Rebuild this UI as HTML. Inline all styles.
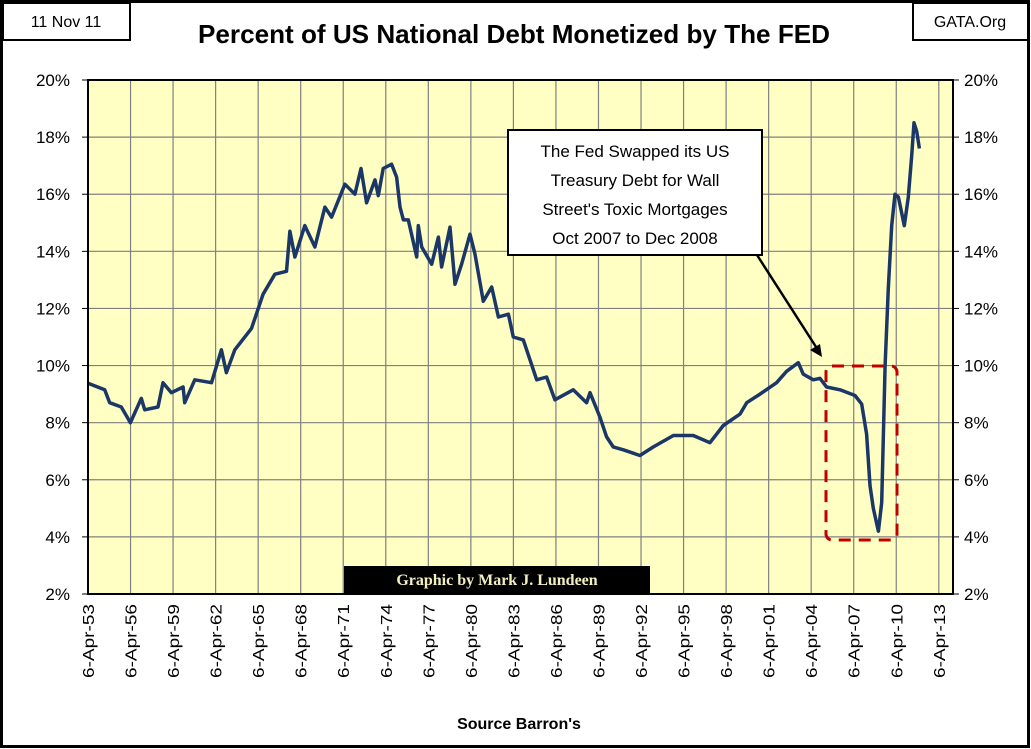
<!DOCTYPE html>
<html><head><meta charset="utf-8">
<style>
body{margin:0;background:#fff;}
svg{display:block;font-family:"Liberation Sans",sans-serif;}
</style></head>
<body>
<svg id="chart" width="1031" height="749" viewBox="0 0 1031 749" xmlns="http://www.w3.org/2000/svg">
<rect x="1.5" y="1.5" width="1027" height="745" fill="#fff" stroke="#000" stroke-width="3"/>
<rect x="3" y="3" width="127" height="37" fill="#fff" stroke="#000" stroke-width="2"/>
<text x="66" y="27" font-size="16" text-anchor="middle">11 Nov 11</text>
<rect x="913" y="3" width="115" height="37" fill="#fff" stroke="#000" stroke-width="2"/>
<text x="970" y="27" font-size="16" text-anchor="middle">GATA.Org</text>
<text x="514" y="43" font-size="26" font-weight="bold" text-anchor="middle" textLength="632" lengthAdjust="spacingAndGlyphs">Percent of US National Debt Monetized by The FED</text>
<rect x="88" y="80" width="865" height="514" fill="#ffffc4"/>
<g id="grid"></g>
<g id="axes"></g>
<path id="series" fill="none" stroke="#1b3768" stroke-width="3.5" stroke-linejoin="round"/>
<rect x="88" y="80" width="865" height="514" fill="none" stroke="#000" stroke-width="2"/>
<rect x="826" y="366" width="71" height="174" rx="6" fill="none" stroke="#c00000" stroke-width="3" stroke-dasharray="12,8"/>
<line x1="757" y1="255" x2="818" y2="350" stroke="#000" stroke-width="2.5"/>
<polygon points="822,357 810,350 820,344" fill="#000"/>
<rect x="508" y="130" width="254" height="125" fill="#fff" stroke="#000" stroke-width="2"/>
<g font-size="17" text-anchor="middle">
<text x="635" y="157">The Fed Swapped its US</text>
<text x="635" y="186">Treasury Debt for Wall</text>
<text x="635" y="215">Street's Toxic Mortgages</text>
<text x="635" y="244">Oct 2007 to Dec 2008</text>
</g>
<rect x="344" y="566" width="306" height="28" fill="#000"/>
<text x="497" y="585" font-size="16" font-weight="bold" fill="#f3efc0" text-anchor="middle" font-family="Liberation Serif,serif">Graphic by Mark J. Lundeen</text>
<text x="519" y="729" font-size="16" font-weight="bold" text-anchor="middle">Source Barron's</text>
</svg>
<script>
const years=[1953.26,1954.44,1954.79,1955.61,1956.25,1957.02,1957.26,1958.2,1958.55,1959.14,1959.97,1960.08,1960.79,1961.97,1962.67,1963.02,1963.61,1964.79,1965.61,1966.44,1967.26,1967.5,1967.85,1968.55,1969.26,1969.97,1970.44,1971.38,1972.08,1972.51,1972.91,1973.5,1973.73,1974.08,1974.67,1975.02,1975.26,1975.5,1975.85,1976.44,1976.55,1976.79,1977.5,1977.97,1978.2,1978.79,1979.14,1979.61,1980.2,1980.55,1981.14,1981.73,1982.2,1982.91,1983.25,1983.96,1984.43,1984.9,1985.6,1986.19,1987.48,1988.42,1988.66,1989.36,1989.83,1990.3,1991.01,1992.18,1993.13,1994.54,1995.95,1997.12,1998.06,1999.24,1999.71,2000.65,2001.82,2002.53,2003.35,2003.7,2004.41,2004.88,2005.35,2006.29,2007.35,2007.82,2008.17,2008.41,2008.64,2009.0,2009.23,2009.47,2009.7,2009.94,2010.17,2010.41,2010.83,2011.11,2011.35,2011.51,2011.7,2011.89];
const values=[9.38,9.15,8.7,8.55,8.0,8.85,8.45,8.55,9.4,9.05,9.25,8.7,9.5,9.4,10.55,9.75,10.55,11.3,12.5,13.2,13.3,14.7,13.8,14.9,14.15,15.55,15.2,16.35,16.0,16.9,15.7,16.5,15.95,16.9,17.05,16.6,15.55,15.1,15.1,13.8,14.9,14.15,13.55,14.5,13.45,14.85,12.85,13.55,14.6,13.9,12.25,12.75,11.7,11.8,11.0,10.9,10.2,9.5,9.6,8.8,9.15,8.7,9.05,8.2,7.5,7.15,7.05,6.85,7.15,7.55,7.55,7.3,7.9,8.3,8.7,9.0,9.4,9.8,10.1,9.7,9.5,9.55,9.25,9.15,8.95,8.65,7.6,5.8,5.0,4.2,5.2,10.0,12.7,14.9,16.0,15.9,14.9,15.9,17.35,18.5,18.2,17.6];
const yTicks=[2,4,6,8,10,12,14,16,18,20];
const xTickLabels=["6-Apr-53","6-Apr-56","6-Apr-59","6-Apr-62","6-Apr-65","6-Apr-68","6-Apr-71","6-Apr-74","6-Apr-77","6-Apr-80","6-Apr-83","6-Apr-86","6-Apr-89","6-Apr-92","6-Apr-95","6-Apr-98","6-Apr-01","6-Apr-04","6-Apr-07","6-Apr-10","6-Apr-13"];
const xTickYears=[1953.26,1956.26,1959.26,1962.26,1965.26,1968.26,1971.26,1974.26,1977.26,1980.26,1983.26,1986.26,1989.26,1992.26,1995.26,1998.26,2001.26,2004.26,2007.26,2010.26,2013.26];
const NS='http://www.w3.org/2000/svg';
function xs(y){return 88+(y-1953.26)*14.18;}
function ys(v){return 594-(v-2)*28.556;}
const grid=document.getElementById('grid'),axes=document.getElementById('axes');
function mk(tag,attrs,parent){const e=document.createElementNS(NS,tag);for(const k in attrs)e.setAttribute(k,attrs[k]);parent.appendChild(e);return e;}
yTicks.forEach(v=>{
  const y=ys(v);
  const g=mk('line',{x1:88,x2:953,y1:y,y2:y,stroke:'#808080','stroke-width':1.2},grid);
  
  
  const l=mk('text',{x:70,y:y+6,'font-size':17,'text-anchor':'end'},axes);
  l.textContent=v+'%';
  
  
  const r=mk('text',{x:964,y:y+6,'font-size':17,'text-anchor':'start'},axes);
  r.textContent=v+'%';
  
  
  mk('line',{x1:82,x2:88,y1:y,y2:y,stroke:'#000'},axes);
  mk('line',{x1:953,x2:959,y1:y,y2:y,stroke:'#000'},axes);
});
xTickYears.forEach((yr,i)=>{
  const x=xs(yr);
  const g=mk('line',{x1:x,x2:x,y1:80,y2:594,stroke:'#808080','stroke-width':1.2},grid);
  
  
  const t=mk('text',{x:0,y:0,'font-size':16,'text-anchor':'end',textLength:74,lengthAdjust:'spacingAndGlyphs',transform:'translate('+(x+6)+',604) rotate(-90)'},axes);
  t.textContent=xTickLabels[i];
  
  
});
let d='';
years.forEach((yr,i)=>{d+=(i?'L':'M')+xs(yr).toFixed(1)+','+ys(values[i]).toFixed(1);});
document.getElementById('series').setAttribute('d',d);
</script>
</body></html>
